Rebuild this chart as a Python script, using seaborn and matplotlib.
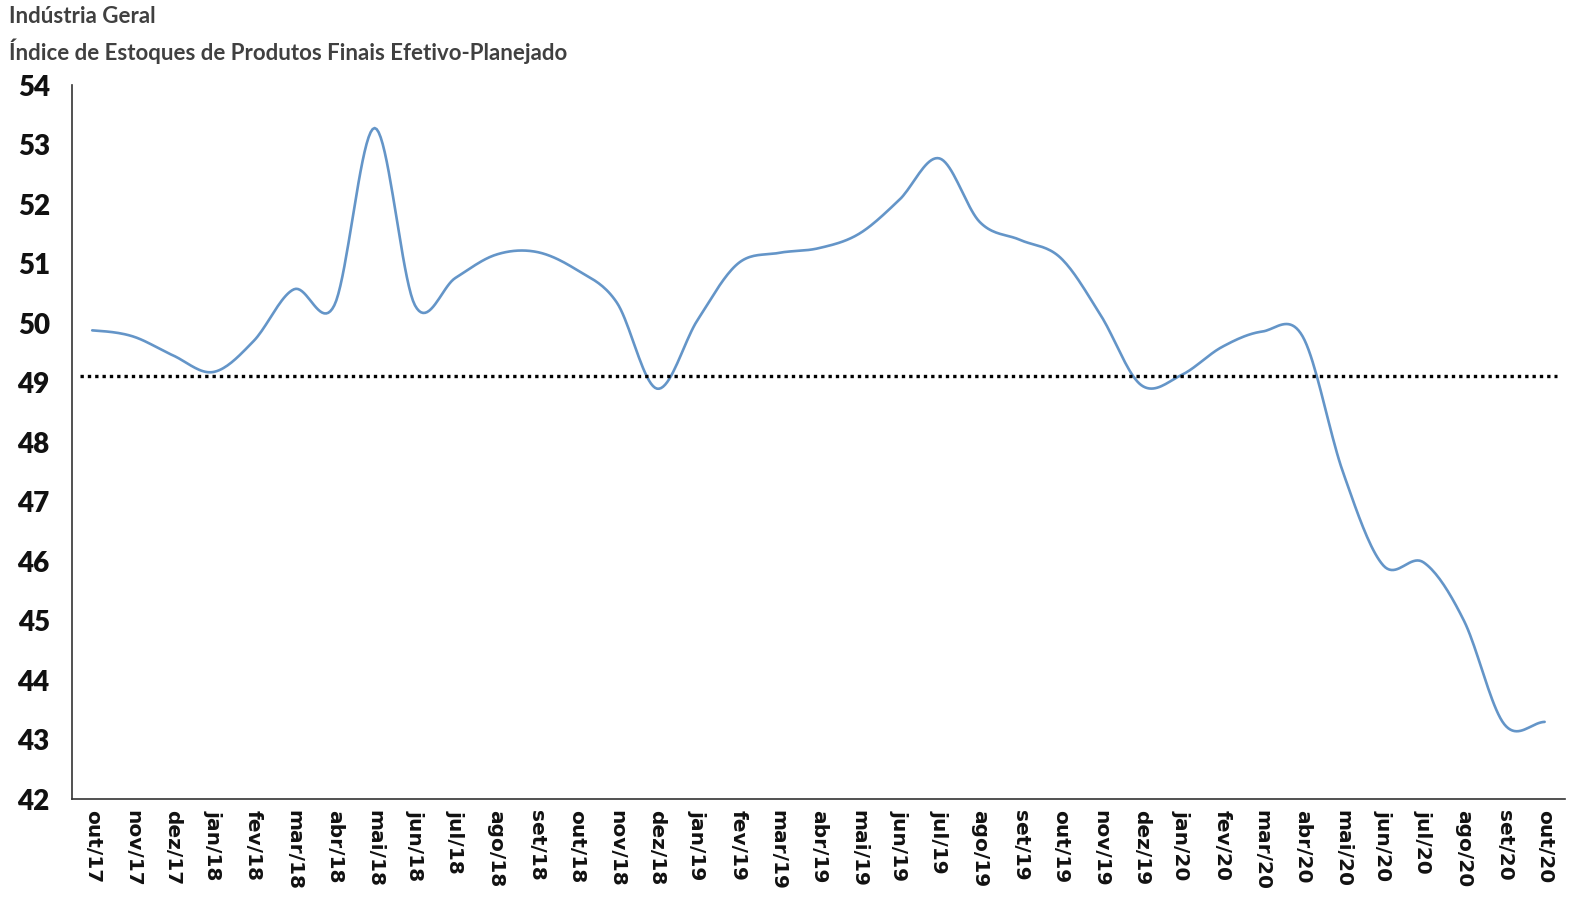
import numpy as np
import pandas as pd
import matplotlib
matplotlib.use("Agg")
import matplotlib.pyplot as plt
import seaborn as sns

# Data
meses = ["out/17", "nov/17", "dez/17",
         "jan/18", "fev/18", "mar/18", "abr/18", "mai/18", "jun/18",
         "jul/18", "ago/18", "set/18", "out/18", "nov/18", "dez/18",
         "jan/19", "fev/19", "mar/19", "abr/19", "mai/19", "jun/19",
         "jul/19", "ago/19", "set/19", "out/19", "nov/19", "dez/19",
         "jan/20", "fev/20", "mar/20", "abr/20", "mai/20", "jun/20",
         "jul/20", "ago/20", "set/20", "out/20"]
indice = [49.88, 49.78, 49.46,
          49.18, 49.7, 50.57, 50.3, 53.28, 50.3,
          50.76, 51.15, 51.2, 50.9, 50.35, 48.9,
          50.05, 51.0, 51.18, 51.26, 51.5, 52.07,
          52.77, 51.7, 51.4, 51.1, 50.13, 48.96,
          49.13, 49.6, 49.86, 49.78, 47.5, 45.93,
          45.98, 45.0, 43.26, 43.3]
media = 49.12
yticks = list(range(42, 55))

sns.set_theme(style="white")
plt.rcParams['font.family'] = ['DejaVu Sans']

# Smoothed curve (Catmull-Rom through the monthly points, like Excel's smoothing)
def catmull_rom(y, n=20):
    y = np.asarray(y, dtype=float)
    p = np.concatenate([[y[0]], y, [y[-1]]])
    xs, ys = [], []
    for i in range(len(y) - 1):
        p0, p1, p2, p3 = p[i], p[i + 1], p[i + 2], p[i + 3]
        t = np.linspace(0, 1, n, endpoint=False)
        yy = 0.5 * (2 * p1 + (-p0 + p2) * t + (2 * p0 - 5 * p1 + 4 * p2 - p3) * t ** 2
                    + (-p0 + 3 * p1 - 3 * p2 + p3) * t ** 3)
        xs.extend(i + t)
        ys.extend(yy)
    xs.append(len(y) - 1)
    ys.append(y[-1])
    return np.array(xs), np.array(ys)

sx, sy = catmull_rom(indice)
df = pd.DataFrame({"x": sx, "y": sy})

fig = plt.figure(figsize=(15.73, 8.97), dpi=100)
ax = fig.add_axes([0.0458, 0.109, 0.949, 0.796])

sns.lineplot(data=df, x="x", y="y", ax=ax, color="#6495c8", linewidth=1.9, sort=False)
ax.axhline(media, xmin=0.005, xmax=0.995, color="black", linestyle=(0, (1, 1.2)),
           linewidth=2.4)

ax.set_xlim(-0.5, len(meses) - 0.5)
ax.set_ylim(42, 54)
ax.set_yticks(yticks)
ax.set_yticklabels([str(v) for v in yticks], fontfamily="Lato", fontweight="heavy",
                   fontsize=20, color="#111111")
ax.set_xticks(range(len(meses)))
ax.set_xticklabels(meses, rotation=270, fontweight="bold", fontsize=14.5, color="#111111")
ax.set_xticks(np.arange(-0.5, len(meses), 1), minor=True)
ax.tick_params(axis="x", which="major", length=0, pad=8)
ax.tick_params(axis="x", which="minor", direction="inout", length=14, width=1.1, color="#333333")
ax.tick_params(axis="y", direction="in", length=11, width=1.1, color="#333333", pad=16)
ax.set_xlabel("")
ax.set_ylabel("")

for s in ["top", "right"]:
    ax.spines[s].set_visible(False)
for s in ["left", "bottom"]:
    ax.spines[s].set_color("#333333")
    ax.spines[s].set_linewidth(1.2)

fig.text(0.006, 0.993, "Indústria Geral", fontfamily="Lato", fontweight="bold",
         fontsize=16, color="#404040", va="top")
fig.text(0.006, 0.957, "Índice de Estoques de Produtos Finais Efetivo-Planejado",
         fontfamily="Lato", fontweight="bold", fontsize=16, color="#404040", va="top")

fig.savefig("out.png", dpi=100)
